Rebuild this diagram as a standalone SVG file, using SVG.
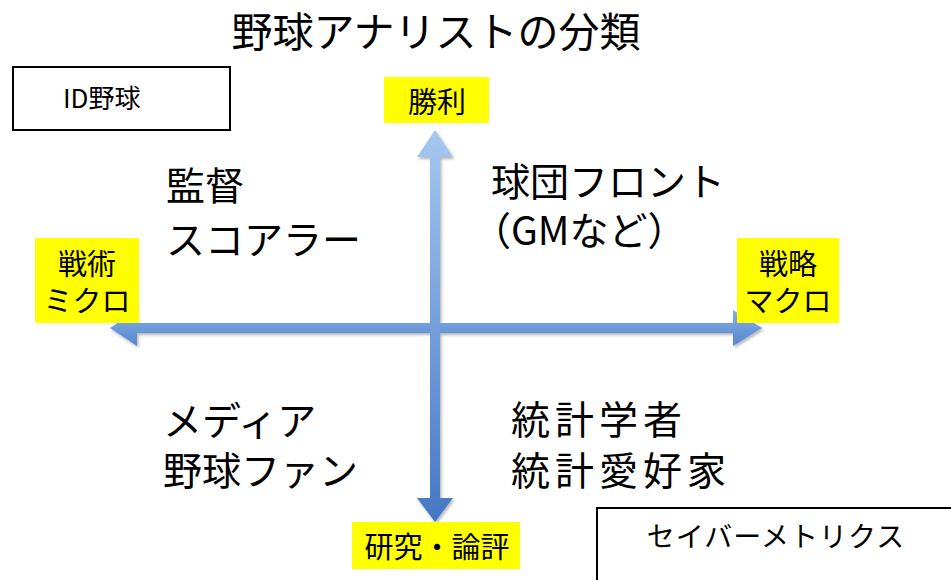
<svg xmlns="http://www.w3.org/2000/svg" width="951" height="580" viewBox="0 0 951 580">
<style>
text{font-family:"Noto Sans CJK JP","Noto Sans",sans-serif;fill:#000}
.title{font-size:41px}
.q{font-size:39px}
.lab{font-size:29px;text-anchor:middle}
.ylw{fill:#ffff00}
.box{fill:#fff;stroke:#000;stroke-width:2}
</style>
<defs>
<linearGradient id="gv" x1="0" y1="0" x2="0" y2="1">
<stop offset="0" stop-color="#a6c8f0"/>
<stop offset="1" stop-color="#4577c3"/>
</linearGradient>
<linearGradient id="gh" x1="0" y1="0" x2="0" y2="1">
<stop offset="0" stop-color="#86b0e6"/>
<stop offset="1" stop-color="#5486cf"/>
</linearGradient>
<filter id="sh" x="-10%" y="-10%" width="120%" height="130%">
<feDropShadow dx="1.5" dy="2" stdDeviation="1.5" flood-color="#000" flood-opacity="0.3"/>
</filter>
</defs>
<rect width="951" height="580" fill="#fff"/>
<text class="title" x="436" y="47" text-anchor="middle">野球アナリストの分類</text>
<g id="connectors" filter="url(#sh)">
<polygon fill="url(#gh)" points="110,328 137,310 137,323 733,323 733,310 762,328 733,346 733,333 137,333 137,346"/>
<polygon fill="url(#gv)" points="435,130 453,157 440,157 440,498 453,498 435,522 417,498 430,498 430,157 417,157"/>
</g>
<g id="id-baseball">
<rect class="box" x="13" y="67" width="217" height="63"/>
<text x="63" y="108" style="font-size:26px">ID野球</text>
</g>
<g id="sabermetrics">
<rect class="box" x="597" y="508" width="370" height="90"/>
<text x="776" y="547" style="font-size:28px" letter-spacing="1" text-anchor="middle">セイバーメトリクス</text>
</g>
<g id="label-win">
<rect class="ylw" x="384" y="77" width="105" height="46"/>
<text class="lab" x="437" y="113">勝利</text>
</g>
<g id="label-micro">
<rect class="ylw" x="35" y="238" width="104" height="85"/>
<text class="lab" x="87" y="275">戦術</text>
<text class="lab" x="87" y="312">ミクロ</text>
</g>
<g id="label-macro">
<rect class="ylw" x="737" y="238" width="102" height="85"/>
<text class="lab" x="788" y="275">戦略</text>
<text class="lab" x="788" y="312">マクロ</text>
</g>
<g id="label-research">
<rect class="ylw" x="352" y="522" width="168" height="47"/>
<text class="lab" x="437" y="558">研究・論評</text>
</g>
<g id="q-top-left">
<text class="q" x="166" y="200">監督</text>
<text class="q" x="166" y="254">スコアラー</text>
</g>
<g id="q-top-right">
<text class="q" x="491" y="196">球団フロント</text>
<text class="q" x="472" y="245">（GMなど）</text>
</g>
<g id="q-bottom-left">
<text class="q" x="163" y="435">メディア</text>
<text class="q" x="163" y="485">野球ファン</text>
</g>
<g id="q-bottom-right">
<text class="q" x="511" y="434" letter-spacing="5">統計学者</text>
<text class="q" x="511" y="485" letter-spacing="5">統計愛好家</text>
</g>
</svg>
